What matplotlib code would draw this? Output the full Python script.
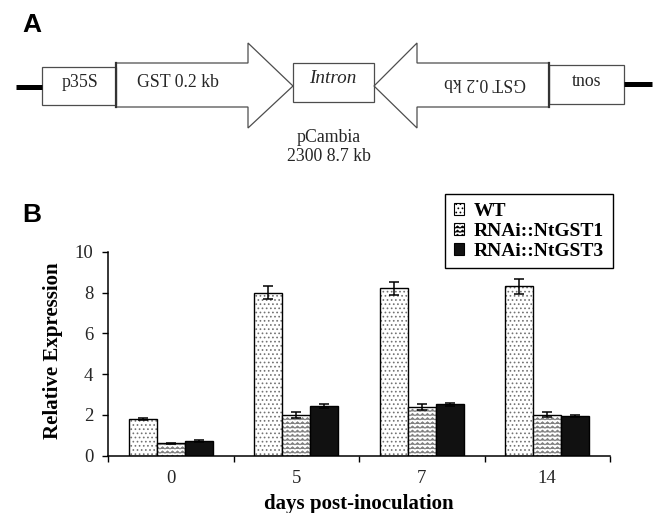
"""
Figure: (A) RNAi hairpin construct, (B) relative NtGST expression after inoculation.
"""
import numpy as np
import matplotlib
matplotlib.use('Agg')
import matplotlib.pyplot as plt
import matplotlib.hatch as mhatch
from matplotlib.path import Path
from matplotlib.patches import Polygon, Rectangle, Patch

# ---- data (panel B) ----
days = ['0', '5', '7', '14']
series = ['WT', 'RNAi::NtGST1', 'RNAi::NtGST3']
wt = [1.8, 8.0, 8.2, 8.3]
wt_err = [0.05, 0.32, 0.33, 0.35]
gst1 = [0.6, 2.0, 2.4, 2.0]
gst1_err = [0.03, 0.15, 0.15, 0.12]
gst3 = [0.72, 2.43, 2.52, 1.95]
gst3_err = [0.03, 0.08, 0.08, 0.03]

# ---- construct labels (panel A) ----
promoter = 'p35S'
gene = 'GST 0.2 kb'
spacer = 'Intron'
terminator = 'tnos'
vector = 'pCambia\n2300 8.7 kb'

SERIF = 'Liberation Serif'
SANS = 'Liberation Sans'
W, H = 659, 513


class ZigZagHatch(mhatch.HatchPatternBase):
    """Replaces the '|' hatch with rows of zigzag lines."""
    periods = 20

    def __init__(self, hatch, density):
        self.num_lines = int(hatch.count('|') * density)
        self.num_vertices = self.num_lines * (2 * self.periods + 1)

    def set_vertices_and_codes(self, vertices, codes):
        n_pts = 2 * self.periods + 1
        xs = np.linspace(0.0, 1.0, n_pts)
        amp = 0.26 / self.num_lines
        sign = np.where(np.arange(n_pts) % 2 == 0, -1.0, 1.0)
        for i in range(self.num_lines):
            y0 = (i + 0.5) / self.num_lines
            sl = slice(i * n_pts, (i + 1) * n_pts)
            vertices[sl, 0] = xs
            vertices[sl, 1] = y0 + amp * sign
            codes[sl] = Path.LINETO
            codes[i * n_pts] = Path.MOVETO


mhatch._hatch_types[mhatch._hatch_types.index(mhatch.VerticalHatch)] = ZigZagHatch
plt.rcParams['hatch.linewidth'] = 0.7

fig = plt.figure(figsize=(W / 100, H / 100), dpi=100)

# ---- panel A: drawn in pixel coordinates ----
axA = fig.add_axes([0, 0, 1, 1])
axA.set_xlim(0, W)
axA.set_ylim(H, 0)
axA.axis('off')

edge = '0.3'
axA.plot([16, 42], [87, 87], color='black', lw=3.6, solid_capstyle='butt')
axA.plot([624, 652], [84, 84], color='black', lw=3.6, solid_capstyle='butt')
axA.add_patch(Rectangle((42, 67), 74, 38, fill=False, ec=edge, lw=0.9))
axA.add_patch(Rectangle((293, 63), 81, 39, fill=False, ec=edge, lw=0.9))
axA.add_patch(Rectangle((549, 65), 75, 39, fill=False, ec=edge, lw=0.9))
axA.add_patch(Polygon([(116, 63), (248, 63), (248, 43), (293, 86),
                       (248, 128), (248, 107), (116, 107)],
                      closed=True, fill=False, ec=edge, lw=0.9))
axA.add_patch(Polygon([(549, 63), (417, 63), (417, 43), (374, 86),
                       (417, 128), (417, 107), (549, 107)],
                      closed=True, fill=False, ec=edge, lw=0.9))
axA.plot([116, 116], [63, 107], color='0.2', lw=1.6)
axA.plot([549, 549], [63, 107], color='0.2', lw=1.6)

txt = dict(family=SERIF, fontsize=12.8, color='0.15')
axA.text(80, 87, promoter, ha='center', va='baseline', **txt)
axA.text(178, 87, gene, ha='center', va='baseline', **txt)
axA.text(333, 83, spacer, ha='center', va='baseline', style='italic',
         **{**txt, 'fontsize': 13.8})
axA.text(485, 78, gene, ha='center', va='baseline', rotation=180,
         rotation_mode='anchor', **txt)
axA.text(587, 86, terminator, ha='center', va='baseline', **txt)
axA.text(329, 147, vector, ha='center', va='center', linespacing=1.2, **txt)

axA.text(22, 32, 'A', family=SANS, fontweight='bold', fontsize=19, va='baseline')
axA.text(22, 222, 'B', family=SANS, fontweight='bold', fontsize=19, va='baseline')

# ---- panel B: bar chart ----
ax = fig.add_axes([108 / W, 1 - 455.7 / H, 502 / W, 204 / H])
x = np.arange(len(days))
bw = 0.224
err_kw = dict(ecolor='black', elinewidth=1.1, capsize=3.3, capthick=1.1)

# hatch layer (gray) then black outline on top
ax.bar(x - bw, wt, bw, color='white', edgecolor='0.45', hatch='....', lw=0)
ax.bar(x - bw, wt, bw, color='none', edgecolor='black', lw=1.0,
       yerr=wt_err, error_kw=err_kw)
ax.bar(x, gst1, bw, color='white', edgecolor='0.5', hatch='||||', lw=0)
ax.bar(x, gst1, bw, color='none', edgecolor='black', lw=1.0,
       yerr=gst1_err, error_kw=err_kw)
ax.bar(x + bw, gst3, bw, color='#111111', edgecolor='black', lw=1.0,
       yerr=gst3_err, error_kw=err_kw)

ax.set_xlim(-0.5, len(days) - 0.5)
ax.set_ylim(0, 10)
ax.set_yticks(np.arange(0, 11, 2))
ax.set_xticks(np.arange(len(days) + 1) - 0.5)
ax.set_xticklabels([])
ax.set_xticks(x, minor=True)
ax.set_xticklabels(days, minor=True)
ax.tick_params(axis='x', which='major', direction='out', length=4.5, width=1)
ax.tick_params(axis='x', which='minor', length=0, pad=10)
ax.tick_params(axis='y', direction='out', length=4.5, width=1, pad=6)
for lab in ax.get_xticklabels(minor=True) + ax.get_yticklabels():
    lab.set_family(SERIF)
    lab.set_fontsize(13.5)
    lab.set_color('0.15')
for side in ('top', 'right'):
    ax.spines[side].set_visible(False)
for side in ('left', 'bottom'):
    ax.spines[side].set_linewidth(1.1)

ax.set_ylabel('Relative Expression', family=SERIF, fontweight='bold',
              fontsize=15)
ax.yaxis.set_label_coords(-0.09, 0.513)
ax.set_xlabel('days post-inoculation', family=SERIF, fontweight='bold',
              fontsize=15, labelpad=5)

handles = [Patch(facecolor='white', edgecolor='black', hatch='....', lw=0.8),
           Patch(facecolor='white', edgecolor='black', hatch='||||', lw=0.8),
           Patch(facecolor='#111111', edgecolor='black', lw=0.8)]
leg = ax.legend(handles, series, loc='upper right',
                bbox_to_anchor=(613 / W, 1 - 194 / H),
                bbox_transform=fig.transFigure, borderaxespad=0,
                prop=dict(family=SERIF, weight='bold', size=14),
                handlelength=0.55, handleheight=0.55, handletextpad=0.5,
                labelspacing=0.15, borderpad=0.45, fancybox=False,
                edgecolor='black', framealpha=1)
leg.get_frame().set_linewidth(1.0)

fig.savefig('out.png', dpi=100)
